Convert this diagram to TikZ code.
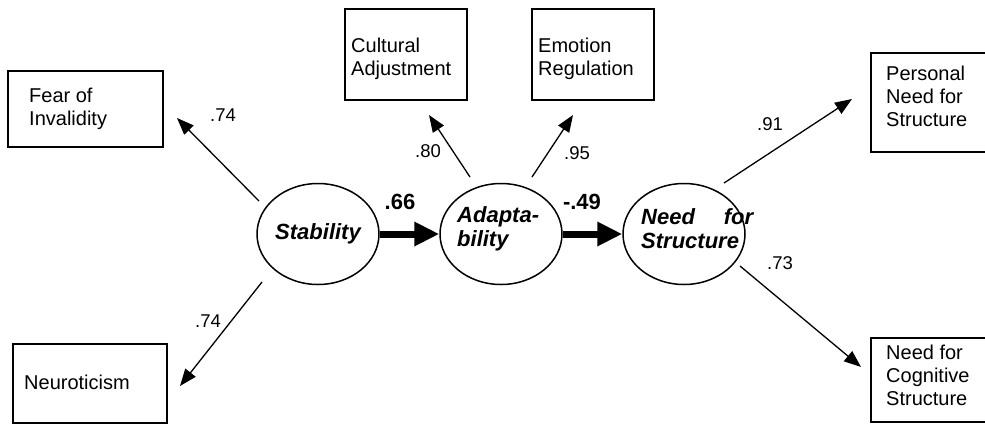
\documentclass[tikz,border=0pt]{standalone}
\usepackage{fontspec}
\setmainfont{Liberation Sans}
\usetikzlibrary{arrows.meta,shapes.geometric}
\begin{document}
\begin{tikzpicture}[x=1pt,y=-1pt,
  box/.style={draw,line width=1.7pt,rectangle,inner sep=0pt},
  lat/.style={draw,line width=1.5pt,ellipse,inner sep=0pt,minimum width=122pt,minimum height=101pt},
  boxtext/.style={anchor=west,inner sep=0pt,align=left,font=\fontsize{20}{23}\selectfont},
  lattext/.style={inner sep=0pt,align=left,font=\fontsize{22}{24}\selectfont\bfseries\itshape},
  coef/.style={inner sep=0pt,font=\fontsize{18.5}{20}\selectfont},
  bcoef/.style={inner sep=0pt,font=\fontsize{22}{24}\selectfont\bfseries},
  thin/.style={line width=1.3pt,-{Triangle[length=17pt,width=13pt]}},
  thick/.style={line width=7pt,-{Triangle[length=25pt,width=23pt]}}]
\useasboundingbox (0,0) rectangle (985,424);
% boxes
\node[box,minimum width=155pt,minimum height=76pt] (fear) at (85.5,109) {};
\node[box,minimum width=154pt,minimum height=79pt] (neuro) at (90,383.5) {};
\node[box,minimum width=122pt,minimum height=91pt] (cult) at (406,54.5) {};
\node[box,minimum width=122pt,minimum height=91pt] (emo) at (593,54.5) {};
\node[box,minimum width=125pt,minimum height=99pt] (pers) at (933.5,102.5) {};
\node[box,minimum width=125pt,minimum height=84pt] (cog) at (933.5,380) {};
% box texts
\node[boxtext] (feart) at (29,109) {Fear of\\Invalidity};
\node[boxtext] (neurot) at (24,382) {Neuroticism};
\node[boxtext] (cultt) at (351,59) {Cultural\\Adjustment};
\node[boxtext] (emot) at (538,59) {Emotion\\Regulation};
\node[boxtext] (perst) at (886,96) {Personal\\Need for\\Structure};
\node[boxtext] (cogt) at (886,375) {Need for\\Cognitive\\Structure};
% latent variables
\node[lat] (stab) at (318,234) {};
\node[lat] (adapt) at (501,234) {};
\node[lat] (nfs) at (684,234) {};
\node[lattext] (stabt) at (318,234) {Stability};
\node[lattext,anchor=west] (adaptt) at (457,229) {Adapta-\\bility};
\node[lattext,anchor=west] (nfst) at (641,229) {\hbox to 112pt{Need\hfill for}\\Structure};
% coordinates
\coordinate (s1) at (259,201); \coordinate (f1) at (177,118);
\coordinate (s2) at (262,282); \coordinate (n1) at (180,386);
\coordinate (a1) at (470,177); \coordinate (c1) at (429,115);
\coordinate (a2) at (532,177); \coordinate (e1) at (573,115);
\coordinate (t1) at (724,183); \coordinate (p1) at (852,99);
\coordinate (t2) at (740,266); \coordinate (g1) at (861,367);
% arrows
\draw[thin] (s1) -- (f1);
\draw[thin] (s2) -- (n1);
\draw[thin] (a1) -- (c1);
\draw[thin] (a2) -- (e1);
\draw[thin] (t1) -- (p1);
\draw[thin] (t2) -- (g1);
\draw[thick] (stab.east) -- (adapt.west);
\draw[thick] (adapt.east) -- (nfs.west);
% coefficients
\node[coef] (l1) at (223,115) {.74};
\node[coef] (l2) at (208,321) {.74};
\node[coef] (l3) at (428,151) {.80};
\node[coef] (l4) at (577,153) {.95};
\node[coef] (l5) at (770,124) {.91};
\node[coef] (l6) at (780,263) {.73};
\node[bcoef] (l7) at (400,202) {.66};
\node[bcoef] (l8) at (582,202) {-.49};
\end{tikzpicture}
\end{document}
